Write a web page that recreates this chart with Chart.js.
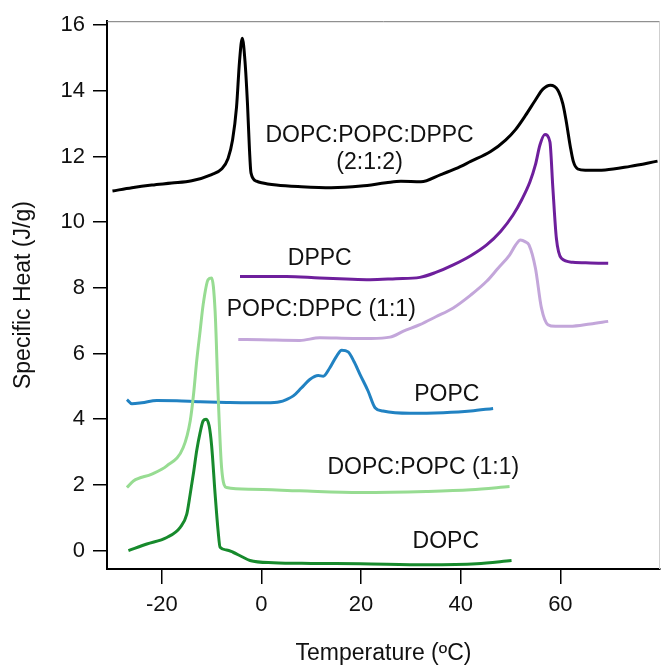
<!DOCTYPE html>
<html>
<head>
<meta charset="utf-8">
<script src="https://cdn.jsdelivr.net/npm/chart.js@4.4.1/dist/chart.umd.min.js"></script>
<style>
  html, body { margin: 0; padding: 0; background: #fff; }
</style>
</head>
<body>
<canvas id="chartCp" width="662" height="665"></canvas>
<script>
// courbes de DSC : chaleur specifique (J/g) en fonction de la temperature (ºC)

// DOPC:POPC:DPPC (2:1:2)
const mixT = [-29.9, -26, -22, -18, -14, -10, -8, -6.7, -5.8, -5.0, -4.4, -3.85, -3.3, -2.8, -2.4, -2.1, -1, 0, 3, 8, 14, 20, 25, 28, 32, 36, 39, 42, 46, 49, 51, 53, 55, 56.5, 58, 59.5, 60.5, 61.2, 62, 62.6, 63.5, 65, 69, 74, 79.5];
const mixCp = [10.95, 11.05, 11.13, 11.19, 11.26, 11.45, 11.62, 11.94, 12.5, 13.5, 14.9, 15.6, 14.9, 13.6, 12.2, 11.5, 11.25, 11.2, 11.13, 11.08, 11.05, 11.1, 11.2, 11.25, 11.23, 11.45, 11.63, 11.85, 12.15, 12.5, 12.82, 13.25, 13.72, 14.05, 14.17, 14.02, 13.6, 13.05, 12.3, 11.85, 11.62, 11.58, 11.59, 11.7, 11.86];

// DPPC
const dppcT = [-4.3, 0, 5, 11.7, 17, 21.8, 27, 31.8, 35, 38.5, 42, 45.2, 48, 50.5, 52.3, 53.9, 55, 55.9, 56.9, 57.9, 58.5, 59.2, 60.2, 62.5, 66, 69.6];
const dppcCp = [8.35, 8.35, 8.35, 8.3, 8.27, 8.25, 8.28, 8.32, 8.47, 8.7, 8.98, 9.31, 9.72, 10.22, 10.7, 11.23, 11.75, 12.35, 12.67, 12.45, 11.03, 9.51, 8.9, 8.78, 8.76, 8.75];

// POPC:DPPC (1:1)
const popcDppcT = [-4.65, 0, 7.7, 11.7, 18.4, 22, 25.8, 28.5, 31.8, 35, 38.5, 42, 45.2, 47.5, 49.8, 51, 52.0, 53.0, 53.7, 55.0, 56.2, 57.5, 59, 61.9, 66, 69.6];
const popcDppcCp = [6.43, 6.42, 6.4, 6.48, 6.46, 6.46, 6.5, 6.68, 6.88, 7.12, 7.39, 7.78, 8.2, 8.6, 9.0, 9.3, 9.46, 9.4, 9.31, 8.6, 7.39, 6.88, 6.83, 6.83, 6.9, 6.98];

// POPC
const popcT = [-27.0, -26.0, -24, -21.0, -17, -12.3, -7, -2.3, 1, 3.7, 5, 6.4, 8, 9.7, 11.4, 12.4, 13.7, 15, 16.1, 17.4, 18.6, 19.8, 21.4, 22.8, 24.4, 29.8, 36.5, 42, 46.5];
const popcCp = [4.6, 4.47, 4.5, 4.57, 4.56, 4.53, 4.51, 4.5, 4.5, 4.53, 4.6, 4.71, 4.95, 5.21, 5.33, 5.31, 5.56, 5.9, 6.1, 6.05, 5.75, 5.36, 4.86, 4.35, 4.25, 4.18, 4.2, 4.25, 4.33];

// DOPC:POPC (1:1)
const dopcPopcT = [-27.0, -25.7, -22, -19.0, -15.7, -14.3, -13.6, -13.0, -12.3, -11.7, -10.7, -10.0, -9.3, -8.7, -8.0, -7.0, -2.3, 7.7, 19.8, 33.1, 42, 49.8];
const dopcPopcCp = [1.92, 2.12, 2.33, 2.58, 3.14, 3.95, 4.8, 5.77, 6.7, 7.49, 8.25, 8.3, 7.29, 4.76, 2.53, 1.92, 1.87, 1.82, 1.77, 1.8, 1.85, 1.95];

// DOPC
const dopcT = [-26.7, -23, -19.0, -16.3, -15, -14.3, -13.6, -13.0, -12.3, -11.7, -11.1, -10.5, -10.0, -9.3, -8.7, -8.3, -7, -5.7, -4, -2.3, 2.4, 10, 19.8, 33.1, 43.2, 50.2];
const dopcCp = [0.0, 0.2, 0.4, 0.71, 1.1, 1.72, 2.4, 3.04, 3.6, 3.95, 4.0, 3.8, 3.2, 1.72, 0.6, 0.1, 0.02, -0.05, -0.18, -0.3, -0.37, -0.39, -0.4, -0.43, -0.4, -0.3];

// graduations
const xTicks = [-20, 0, 20, 40, 60];
const yTicks = [0, 2, 4, 6, 8, 10, 12, 14, 16];

// etiquettes posees sur le graphe (en coordonnees des donnees)
const labelTexts = ['DOPC:POPC:DPPC', '(2:1:2)', 'DPPC', 'POPC:DPPC (1:1)', 'POPC', 'DOPC:POPC (1:1)', 'DOPC'];
const labelT = [21.7, 21.7, 11.7, 12.0, 37.2, 32.5, 37.0];
const labelCp = [12.65, 11.82, 8.9, 7.33, 4.76, 2.53, 0.28];

const FONT = '"Liberation Sans", Arial, Helvetica, sans-serif';

function toPoints(xs, ys) {
  return xs.map((x, i) => ({ x: x, y: ys[i] }));
}

function courbe(label, xs, ys, color) {
  return {
    label: label,
    data: toPoints(xs, ys),
    borderColor: color,
    borderWidth: 3,
    pointRadius: 0,
    fill: false,
    cubicInterpolationMode: 'monotone'
  };
}

// texte des etiquettes + cadre fin en haut et a droite
const etiquettesPlugin = {
  id: 'etiquettes',
  afterDatasetsDraw(chart) {
    const ctx = chart.ctx;
    const area = chart.chartArea;
    const sx = chart.scales.x;
    const sy = chart.scales.y;
    ctx.save();
    ctx.strokeStyle = '#777';
    ctx.lineWidth = 1;
    ctx.beginPath();
    ctx.moveTo(area.left, area.top + 0.5);
    ctx.lineTo(area.right, area.top + 0.5);
    ctx.stroke();
    ctx.strokeStyle = '#cfcfcf';
    ctx.beginPath();
    ctx.moveTo(area.right - 0.5, area.top);
    ctx.lineTo(area.right - 0.5, area.bottom);
    ctx.stroke();

    ctx.fillStyle = '#111';
    ctx.font = '23px ' + FONT;
    ctx.textAlign = 'center';
    ctx.textBaseline = 'middle';
    labelTexts.forEach((txt, i) => {
      ctx.fillText(txt, sx.getPixelForValue(labelT[i]), sy.getPixelForValue(labelCp[i]));
    });
    ctx.restore();
  }
};

const ctx = document.getElementById('chartCp').getContext('2d');
new Chart(ctx, {
  type: 'line',
  data: {
    datasets: [
      courbe('DOPC', dopcT, dopcCp, '#178a2c'),
      courbe('DOPC:POPC (1:1)', dopcPopcT, dopcPopcCp, '#97dc92'),
      courbe('POPC', popcT, popcCp, '#2182c2'),
      courbe('POPC:DPPC (1:1)', popcDppcT, popcDppcCp, '#c3a6da'),
      courbe('DPPC', dppcT, dppcCp, '#6e1f9c'),
      courbe('DOPC:POPC:DPPC (2:1:2)', mixT, mixCp, '#000000')
    ]
  },
  options: {
    responsive: false,
    devicePixelRatio: 1,
    animation: false,
    layout: { padding: { top: 19, right: 2, left: 0, bottom: 0 } },
    plugins: {
      legend: { display: false },
      tooltip: { enabled: false }
    },
    scales: {
      x: {
        type: 'linear',
        min: -31,
        max: 80,
        afterBuildTicks: (scale) => { scale.ticks = xTicks.map(v => ({ value: v })); },
        afterFit: (scale) => { scale.height = 96; },
        border: { display: true, color: '#000', width: 2 },
        grid: { drawOnChartArea: false, drawTicks: true, tickLength: 15, color: '#000', lineWidth: 1.5 },
        ticks: { color: '#111', padding: 8, font: { family: FONT, size: 22 } },
        title: {
          display: true,
          text: 'Temperature (ºC)',
          color: '#111',
          font: { family: FONT, size: 23, lineHeight: 1 },
          padding: { top: 0, bottom: 0 }
        }
      },
      y: {
        type: 'linear',
        min: -0.56,
        max: 16.12,
        afterBuildTicks: (scale) => { scale.ticks = yTicks.map(v => ({ value: v })); },
        afterFit: (scale) => { scale.width = 107; },
        border: { display: true, color: '#000', width: 2 },
        grid: { drawOnChartArea: false, drawTicks: true, tickLength: 14, color: '#000', lineWidth: 1.5 },
        ticks: { color: '#111', padding: 8, font: { family: FONT, size: 22 } },
        title: {
          display: true,
          text: 'Specific Heat (J/g)',
          color: '#111',
          font: { family: FONT, size: 23, lineHeight: 1.2 },
          padding: { top: 10, bottom: 0 }
        }
      }
    }
  },
  plugins: [etiquettesPlugin]
});
</script>
</body>
</html>
